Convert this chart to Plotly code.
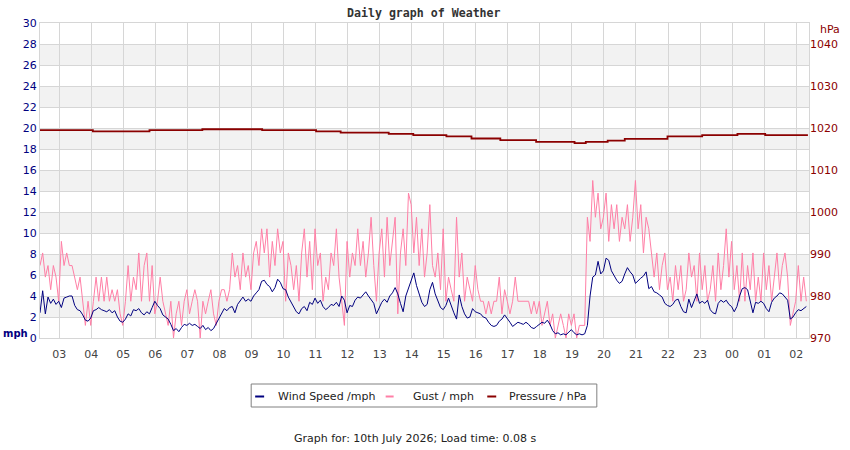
import plotly.graph_objects as go
import pandas as pd

# ---------------- data ----------------
start_time = "2026-07-09 02:24"
end_time = "2026-07-10 02:24"
sample_minutes = 5

# wind speed, mph, one value every 5 minutes (12 per hour row)
wind_speed = [
    2.4, 4.5, 2.3, 3.9, 3.3, 3.7, 3.2, 3.5, 2.9, 3.8, 3.9, 4.0,
    4.0, 3.1, 2.7, 2.6, 2.2, 1.7, 1.6, 1.9, 2.6, 2.7, 2.9, 2.7,
    2.6, 2.5, 2.7, 2.4, 2.6, 2.0, 1.6, 1.5, 1.8, 2.3, 2.1, 2.7,
    2.6, 2.8, 2.4, 2.2, 2.5, 2.3, 2.9, 3.5, 3.1, 2.8, 2.2, 2.0,
    1.8, 1.3, 0.7, 0.9, 0.6, 1.0, 1.3, 1.2, 1.4, 1.2, 1.3, 1.1,
    0.9, 1.2, 0.8, 1.0, 0.7, 0.9, 1.4, 1.9, 2.3, 2.8, 2.6, 2.9,
    3.0, 2.4, 3.2, 3.6, 3.9, 3.5, 3.7, 3.5, 4.0, 4.3, 4.6, 5.4,
    5.5, 5.1, 4.9, 4.4, 4.8, 5.6, 5.3, 4.7, 4.6, 3.9, 3.4, 3.0,
    2.5, 2.3, 2.8, 3.0, 2.6, 3.4, 3.2, 3.8, 3.3, 3.6, 3.0, 2.7,
    2.9, 3.2, 3.1, 3.4, 3.0, 4.0, 3.6, 2.4, 3.1, 3.0, 3.6, 3.9,
    3.8, 4.1, 4.4, 4.0, 3.6, 3.3, 2.3, 2.9, 3.4, 3.7, 3.4, 4.0,
    4.3, 4.8, 4.2, 3.3, 2.5, 4.0, 4.7, 5.3, 6.2, 5.0, 4.3, 3.4,
    3.0, 3.2, 4.6, 5.3, 4.2, 3.5, 2.9, 2.7, 3.1, 3.8, 3.0, 2.4,
    1.8, 4.1, 3.0, 2.3, 1.9, 2.0, 2.8, 2.5, 2.4, 2.3, 2.0, 1.9,
    1.5, 1.2, 1.1, 1.2, 1.6, 1.8, 2.2, 1.9, 1.5, 1.1, 1.3, 1.5,
    1.4, 1.3, 1.5, 1.3, 1.0, 0.9, 1.1, 1.3, 1.5, 1.4, 1.7, 1.3,
    0.7, 0.4, 0.5, 0.3, 0.4, 0.3, 0.6, 0.8, 0.5, 0.3, 0.4, 0.3,
    0.4, 1.2, 4.0, 5.8, 6.0, 7.3, 6.1, 6.4, 7.6, 7.4, 6.4, 5.9,
    5.5, 5.2, 5.4, 6.1, 6.7, 6.3, 6.0, 5.2, 5.5, 5.7, 5.9, 6.3,
    4.7, 4.9, 4.4, 4.3, 4.1, 3.9, 3.3, 3.1, 3.0, 3.2, 3.6, 3.7,
    3.0, 2.5, 2.4, 3.7, 2.9, 3.5, 4.2, 3.3, 3.5, 3.3, 3.6, 2.7,
    2.4, 2.3, 3.3, 3.6, 3.4, 3.6, 3.2, 3.0, 2.5, 3.0, 4.0, 4.7,
    4.8, 4.6, 3.6, 2.4, 3.4, 3.3, 3.5, 3.3, 2.8, 2.5, 3.4, 3.8,
    4.0, 4.3, 4.2, 3.9, 3.6, 1.8, 2.0, 2.4, 2.7, 2.6, 2.8, 3.0,
]

# gust, mph, one value every 5 minutes
gust = [
    6.9, 8.1, 5.8, 6.9, 4.6, 6.9, 5.8, 3.5, 9.2, 6.9, 8.1, 6.9,
    6.9, 5.8, 4.6, 5.8, 3.5, 1.2, 3.5, 1.2, 3.5, 5.8, 3.5, 5.8,
    3.5, 5.8, 3.5, 4.6, 3.5, 4.6, 2.3, 1.2, 3.5, 6.9, 3.5, 5.8,
    4.6, 8.1, 3.5, 6.9, 8.1, 3.5, 6.9, 2.3, 3.5, 5.8, 3.5, 2.3,
    1.2, 3.5, 0.0, 2.3, 3.5, 1.2, 3.5, 4.6, 2.3, 3.5, 4.6, 3.5,
    0.0, 3.5, 2.3, 3.5, 4.6, 2.3, 1.2, 3.5, 4.6, 4.6, 3.5, 4.6,
    8.1, 5.8, 6.9, 4.6, 8.1, 5.8, 6.9, 4.6, 8.1, 9.2, 6.9, 10.4,
    8.1, 10.4, 5.8, 9.2, 6.9, 10.4, 8.1, 9.2, 3.5, 8.1, 6.9, 4.6,
    6.9, 3.5, 8.1, 10.4, 5.8, 9.2, 4.6, 10.4, 6.9, 8.1, 3.5, 5.8,
    4.6, 8.1, 6.9, 10.4, 5.8, 3.5, 1.2, 9.2, 5.8, 8.1, 6.9, 10.4,
    6.9, 9.2, 5.8, 8.1, 11.5, 6.9, 3.5, 8.1, 10.4, 5.8, 11.5, 6.9,
    9.2, 11.5, 2.3, 8.1, 10.4, 6.9, 13.8, 12.7, 8.1, 11.5, 6.9, 10.4,
    5.8, 8.1, 12.7, 6.9, 5.8, 8.1, 4.6, 10.4, 3.5, 5.8, 4.6, 3.5,
    11.5, 5.8, 8.1, 3.5, 5.8, 4.6, 3.5, 6.9, 4.6, 3.5, 3.5, 2.3,
    3.5, 2.3, 3.5, 3.5, 5.8, 2.3, 4.6, 3.5, 2.3, 3.5, 5.8, 3.5,
    3.5, 3.5, 3.5, 3.5, 2.3, 3.5, 2.3, 3.5, 1.2, 2.3, 3.5, 1.2,
    2.3, 0.0, 1.2, 2.3, 1.2, 0.0, 2.3, 1.2, 2.3, 0.0, 1.2, 1.2,
    1.2, 11.5, 9.2, 15.0, 11.5, 13.8, 10.4, 11.5, 13.8, 9.2, 12.7, 10.4,
    12.7, 9.2, 11.5, 10.4, 12.7, 9.2, 11.5, 15.0, 10.4, 12.7, 8.1, 11.5,
    10.4, 8.1, 5.8, 8.1, 4.6, 6.9, 8.1, 4.6, 5.8, 3.5, 6.9, 4.6,
    6.9, 3.5, 4.6, 8.1, 5.8, 6.9, 3.5, 8.1, 4.6, 6.9, 3.5, 4.6,
    6.9, 3.5, 8.1, 4.6, 6.9, 10.4, 5.8, 9.2, 4.6, 6.9, 3.5, 8.1,
    3.5, 6.9, 4.6, 8.1, 3.5, 5.8, 3.5, 8.1, 4.6, 6.9, 3.5, 5.8,
    8.1, 4.6, 6.9, 8.1, 5.8, 1.2, 2.3, 3.5, 6.9, 3.5, 5.8, 3.5,
]

# pressure, hPa (step changes)
pressure_times = [
    "2026-07-09 02:24", "2026-07-09 04:03", "2026-07-09 05:49", "2026-07-09 07:28",
    "2026-07-09 09:20", "2026-07-09 11:01", "2026-07-09 11:47", "2026-07-09 13:17",
    "2026-07-09 14:03", "2026-07-09 15:05", "2026-07-09 15:52", "2026-07-09 16:46",
    "2026-07-09 17:53", "2026-07-09 19:05", "2026-07-09 19:26", "2026-07-09 20:07",
    "2026-07-09 20:39", "2026-07-09 21:59", "2026-07-09 23:04", "2026-07-10 00:10",
    "2026-07-10 01:02", "2026-07-10 02:22",
]
pressure_hpa = [
    1019.5, 1019.2, 1019.5, 1019.7, 1019.5, 1019.2, 1018.9, 1018.6,
    1018.3, 1018.0, 1017.5, 1017.1, 1016.7, 1016.4, 1016.7, 1017.0,
    1017.4, 1018.0, 1018.3, 1018.6, 1018.3, 1018.3,
]

mph_ticks = list(range(0, 31, 2))
hpa_ticks = [970, 980, 990, 1000, 1010, 1020, 1030, 1040]

title_text = "Daily graph of Weather"
footer_text = "Graph for: 10th July 2026; Load time: 0.08 s"
legend_names = ["Wind Speed /mph", "Gust / mph", "Pressure / hPa"]

# ---------------- styling ----------------
C_WIND = "#00007f"
C_GUST = "#ff7fa6"
C_PRES = "#8b0000"
GRID = "#d6d6d6"
BAND = "#f2f2f2"

W, H = 850, 450
L, R, T, B = 40, 38, 23, 112
PW, PH = W - L - R, H - T - B


def px(x):
    return (x - L) / PW


def py(y):
    return (H - B - y) / PH


times = pd.date_range(start_time, periods=len(wind_speed), freq=f"{sample_minutes}min")

fig = go.Figure()
fig.add_trace(go.Scatter(x=times, y=gust, mode="lines", name=legend_names[1],
                         line=dict(color=C_GUST, width=1), showlegend=False))
fig.add_trace(go.Scatter(x=times, y=wind_speed, mode="lines", name=legend_names[0],
                         line=dict(color=C_WIND, width=1), showlegend=False))
fig.add_trace(go.Scatter(x=pd.to_datetime(pressure_times), y=pressure_hpa, mode="lines",
                         name=legend_names[2], yaxis="y2",
                         line=dict(color=C_PRES, width=1.8, shape="hv"), showlegend=False))

shapes = []
for lo in mph_ticks[1:-1:2]:
    shapes.append(dict(type="rect", xref="paper", yref="y", x0=0, x1=1, y0=lo, y1=lo + 2,
                       fillcolor=BAND, line=dict(width=0), layer="below"))

# custom legend box
lx0, lx1, ly0, ly1 = 252, 599, 384, 407
shapes.append(dict(type="rect", xref="paper", yref="paper", x0=px(lx0), x1=px(lx1),
                   y0=py(ly1), y1=py(ly0), line=dict(color="#808080", width=1),
                   fillcolor="white", layer="above"))
legend_items = [(256, 265, 277, C_WIND), (387, 395, 412, C_GUST), (489, 498, 509, C_PRES)]
annotations = []
ly = 396
for (a, b, tx, col), name in zip(legend_items, legend_names):
    shapes.append(dict(type="line", xref="paper", yref="paper", x0=px(a), x1=px(b),
                       y0=py(ly + 0.5), y1=py(ly + 0.5), line=dict(color=col, width=2)))
    annotations.append(dict(text=name, xref="paper", yref="paper", x=px(tx), y=py(ly),
                            xanchor="left", yanchor="middle", showarrow=False,
                            font=dict(family="DejaVu Sans", size=11, color="#222222")))

annotations += [
    dict(text="<b>" + title_text + "</b>", xref="paper", yref="paper", x=px(425), y=py(13),
         xanchor="center", yanchor="middle", showarrow=False,
         font=dict(family="DejaVu Sans Mono", size=11.6, color="#333333")),
    dict(text="<b>mph</b>", xref="paper", yref="paper", x=px(1), y=py(333),
         xanchor="left", yanchor="middle", showarrow=False,
         font=dict(family="DejaVu Sans", size=10, color=C_WIND)),
    dict(text="hPa", xref="paper", yref="paper", x=px(821), y=py(29),
         xanchor="left", yanchor="middle", showarrow=False,
         font=dict(family="DejaVu Sans", size=11, color=C_PRES)),
    dict(text=footer_text, xref="paper", yref="paper", x=px(417), y=py(438),
         xanchor="center", yanchor="middle", showarrow=False,
         font=dict(family="DejaVu Sans", size=11, color="#222222")),
]

fig.update_layout(
    width=W, height=H,
    margin=dict(l=L, r=R, t=T, b=B, pad=0),
    paper_bgcolor="white", plot_bgcolor="white",
    showlegend=False,
    font=dict(family="DejaVu Sans", size=11),
    xaxis=dict(type="date", range=[start_time, end_time], tickformat="%H",
               dtick=3600000, tick0="2026-07-09 03:00", showgrid=True, gridcolor=GRID,
               showline=True, linecolor=GRID, mirror=True, zeroline=False,
               ticks="outside", ticklen=6, tickcolor="rgba(0,0,0,0)",
               tickfont=dict(size=11, color="#444444")),
    yaxis=dict(range=[0, 30], tickvals=mph_ticks, showgrid=True, gridcolor=GRID,
               showline=True, linecolor=GRID, mirror=True, zeroline=False,
               ticks="", tickfont=dict(size=11, color=C_WIND)),
    yaxis2=dict(range=[970, 1045], tickvals=hpa_ticks, overlaying="y", side="right",
                showgrid=False, zeroline=False, showline=False, ticks="",
                tickfont=dict(size=11, color=C_PRES)),
    shapes=shapes,
    annotations=annotations,
)

fig.write_html("out.html")
